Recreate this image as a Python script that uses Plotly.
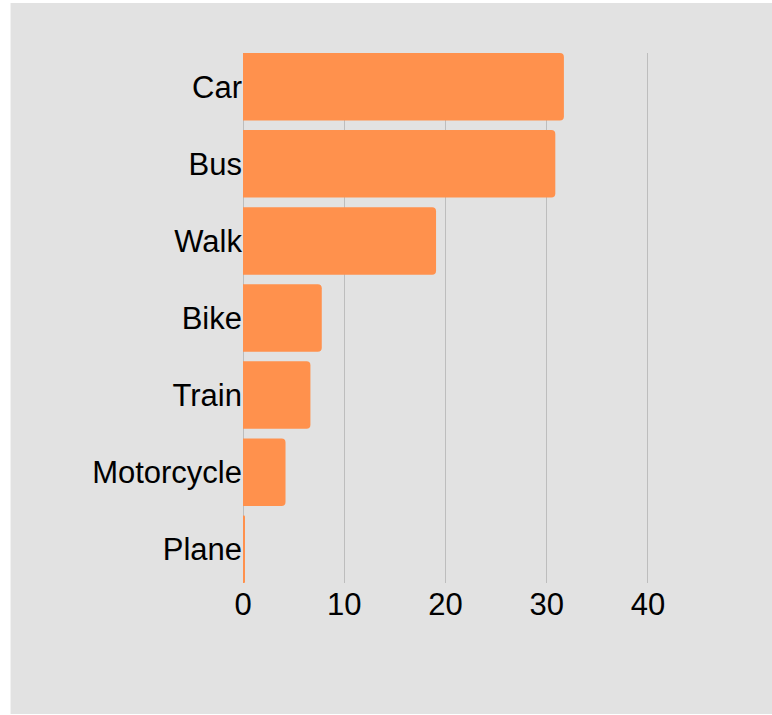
import plotly.graph_objects as go

categories = ["Car", "Bus", "Walk", "Bike", "Train", "Motorcycle", "Plane"]
values = [31.7, 30.85, 19.07, 7.78, 6.66, 4.2, 0.13]
x_ticks = [0, 10, 20, 30, 40]

W, H = 772, 715
ML, MT, MB = 242.5, 53, 132
X40_PX = 647.5          # pixel where the last tick sits
X_MAX = 40.6            # axis range end (slightly past last tick so its gridline shows)
px_per_unit = (X40_PX - ML) / x_ticks[-1]
MR = W - ML - px_per_unit * X_MAX
bar_frac = 0.876

BAR = "#FF914D"
BG = "#E2E2E2"
GRID = "#BDBDBD"
FONT = "Liberation Sans, Arial, sans-serif"
FS = 31

fig = go.Figure(
    go.Bar(
        x=values,
        y=categories,
        orientation="h",
        marker=dict(color=BAR, cornerradius=4, line=dict(width=0)),
        hoverinfo="skip",
    )
)

pw = W - ML - MR
ph = H - MT - MB
# gray panel in page pixels -> paper coords
px0, px1, py0, py1 = 10, 772, 3, 714
shape = dict(
    type="rect", xref="paper", yref="paper", layer="below",
    x0=(px0 - ML) / pw, x1=(px1 - ML) / pw,
    y0=(H - MB - py1) / ph, y1=(H - MB - py0) / ph,
    fillcolor=BG, line=dict(width=0),
)

n = len(categories)
fig.update_layout(
    width=W, height=H,
    margin=dict(l=ML, r=MR, t=MT, b=MB, pad=0),
    paper_bgcolor="white",
    plot_bgcolor="rgba(0,0,0,0)",
    bargap=1 - bar_frac,
    showlegend=False,
    shapes=[shape],
    font=dict(family=FONT, size=FS, color="black"),
    xaxis=dict(
        range=[0, X_MAX], tickvals=x_ticks, showgrid=True, gridcolor=GRID, gridwidth=1,
        zeroline=True, zerolinecolor=GRID, zerolinewidth=1, showline=False,
        ticks="", tickfont=dict(size=FS, family=FONT, color="black"),
    ),
    yaxis=dict(
        categoryorder="array", categoryarray=categories,
        range=[n - 1 + bar_frac / 2, -bar_frac / 2],
        showgrid=False, zeroline=False, showline=False, ticks="",
        tickfont=dict(size=FS, family=FONT, color="black"),
    ),
)

fig.write_html(
    "out.html",
    config={"displayModeBar": False},
    post_script="document.body.style.margin='0';document.body.style.overflow='hidden';",
)
